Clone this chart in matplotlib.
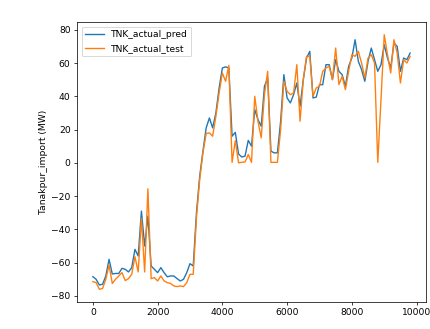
import numpy as np
import matplotlib
matplotlib.use("Agg")
import matplotlib.pyplot as plt

# sample index of the test rows (every 100th)
idx = np.arange(0, 9900, 100)

# model prediction
pred = [-68.4, -70, -73.4, -73, -68, -58, -66.8, -66.5, -66.5, -63.4,
        -64, -65.6, -63, -52, -56, -29, -50, -32, -62, -64,
        -66, -63, -66, -68.5, -68, -68, -69.6, -71, -70, -66,
        -60.6, -62, -30, -8, 7, 21, 27, 21, 30, 45,
        57, 57.7, 57, 16, 18.3, 5.3, 3.5, 4, 13.5, 10,
        32, 26, 22, 46, 51, 7, 6, 6, 25, 53,
        39, 36, 41, 48, 34, 50, 63, 67, 39, 39.5,
        47, 47, 59, 59, 50, 62, 55, 53, 46, 58,
        63, 74, 61, 56, 49, 61, 69, 62, 55, 59,
        71, 63, 57, 72, 70, 55, 63, 62, 66]

# actual values
test = [-71.4, -72, -76, -75.5, -70, -61.5, -72.5, -70, -68, -66,
        -70.8, -69.6, -67, -56.4, -65.6, -33.5, -65.6, -15.6, -69.6, -69,
        -71, -68, -71, -72, -72.5, -74, -74.4, -74, -74.4, -72,
        -67, -67, -33, -10, 6, 17.6, 18, 16, 28, 42,
        54, 49, 58.6, 0.3, 13.3, 0, 0.3, 0.5, 5, 0.3,
        40, 25, 15, 41, 55, 0.3, 0.3, 0.3, 20, 49,
        43, 41, 42, 59, 25, 50, 64, 64, 40, 45,
        46, 55, 57, 58, 50, 69, 47, 52, 44, 55,
        65, 64, 67, 60, 51, 63, 65, 60, 0.3, 38,
        77, 65, 54, 74, 66, 48, 62, 60, 64]

fig = plt.figure(figsize=(430/66, 329/66), dpi=66)
ax = fig.add_axes([77/430, 27/329, 349/430, 280/329])
ax.plot(idx, pred, label='TNK_actual_pred')
ax.plot(idx, test, label='TNK_actual_test')
ax.set_ylabel('Tanakpur_import (MW)')
ax.set_xticks([0, 2000, 4000, 6000, 8000, 10000])
ax.legend(loc='upper left')

fig.savefig('out.png', dpi=66)
